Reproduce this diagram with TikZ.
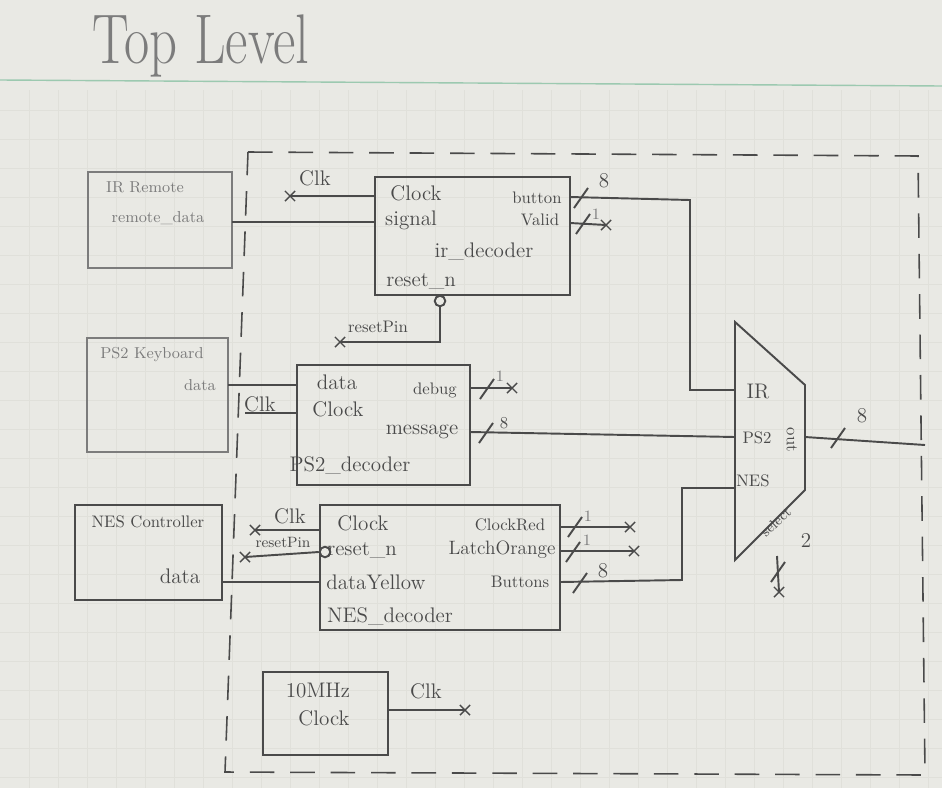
\documentclass[tikz,border=0pt]{standalone}
\usepackage{fontspec}
\usetikzlibrary{fit,shapes.misc}
\definecolor{pencil}{HTML}{4A4A4A}
\definecolor{pencilL}{HTML}{7C7C7C}
\definecolor{paper}{HTML}{E9E9E4}
\definecolor{gridc}{HTML}{E0E0DA}
\definecolor{greenl}{HTML}{9CC9B0}
\tikzset{
  pen/.style={draw=pencil, line width=1.1pt},
  penL/.style={draw=pencilL, line width=1pt},
  box/.style={pen, inner sep=0pt},
  boxL/.style={penL, inner sep=0pt},
  lbl/.style={text=pencil, font=\fontsize{12}{12}\selectfont, inner sep=0pt},
  lbls/.style={text=pencil, font=\fontsize{9.5}{9.5}\selectfont, inner sep=0pt},
  lblL/.style={text=pencilL, font=\fontsize{9}{9}\selectfont, inner sep=0pt},
  xmark/.style={draw=pencil, cross out, line width=0.8pt, minimum size=5pt, inner sep=0pt},
  bound/.style={draw=pencil, line width=0.9pt, dash pattern=on 14pt off 9pt},
  bub/.style={circle, pen, minimum size=6pt, inner sep=0pt},
}
\newcommand\busslash[1]{\draw[pen] (#1) ++(-7,10) -- ++(14,-20);}
\begin{document}
\begin{tikzpicture}[x=0.02cm,y=-0.02cm]
\useasboundingbox (0,0) rectangle (942,788);
\fill[paper] (0,0) rectangle (942,788);
\foreach \g in {29,58,...,940} \draw[gridc, line width=0.3pt] (\g,90) -- (\g,788);
\foreach \g in {110,139,...,788} \draw[gridc, line width=0.3pt] (0,\g) -- (942,\g);
\draw[greenl, line width=0.8pt] (0,80) -- (942,86);

% title
\node[text=pencilL, font=\fontsize{40}{40}\selectfont, xscale=0.78, anchor=south west, inner sep=0] (title) at (92,78) {Top Level};

% boundary
\draw[bound] (248,152) -- (918,156) -- (925,775) -- (225,772) -- cycle;

% ---------- IR section
\node[boxL, fit={(88,172)(232,268)}] (irr) {};
\node[lblL] (irrt) at (145,187) {IR Remote};
\node[lblL] (irrd) at (158,218) {remote\_data};

\node[box, fit={(375,177)(570,295)}] (ird) {};
\node[lbl] (irclkt) at (416,193) {Clock};
\node[lbls] (irbut) at (537,198) {button};
\node[lbl] (irsig) at (411,220) {signal};
\node[lbls] (irval) at (540,220) {Valid};
\node[lbl] (irname) at (484,252) {ir\_decoder};
\node[lbl] (irrst) at (421,281) {reset\_n};

\coordinate (irclkp) at (375,196);
\node[xmark] (irclkx) at (290,196) {};
\node[lbl] (irclkl) at (315,178) {Clk};
\draw[pen] (irclkp) -- (irclkx.center);

\coordinate (irsigp) at (375,222);
\coordinate (irrd2) at (232,222);
\draw[pen] (irrd2) -- (irsigp);

\node[bub] (irbub) at (440,301) {};
\coordinate (irrst1) at (440,342);
\node[xmark] (irrstx) at (340,342) {};
\node[lbls] (irrstl) at (378,327) {resetPin};
\draw[pen] (irbub.south) -- (irrst1) -- (irrstx.center);

% button -> mux IR
\coordinate (irbutp) at (570,197);
\coordinate (irbut1) at (690,200);
\coordinate (irbut2) at (690,390);
\coordinate (muxir) at (735,390);
\draw[pen] (irbutp) -- (irbut1) -- (irbut2) -- (muxir);
\coordinate (s1) at (581,198); \busslash{s1}
\node[lbl] (n8a) at (604,181) {8};

\coordinate (irvalp) at (570,223);
\node[xmark] (irvalx) at (606,225) {};
\draw[pen] (irvalp) -- (irvalx.center);
\coordinate (s2) at (583,224); \busslash{s2}
\node[lblL] (n1a) at (596,214) {1};

% ---------- PS2 section
\node[boxL, fit={(87,338)(228,452)}] (ps2k) {};
\node[lblL] (ps2kt) at (152,355) {PS2 Keyboard};
\node[lblL] (ps2kd) at (200,385) {data};

\node[box, fit={(297,365)(470,485)}] (ps2d) {};
\node[lbl] (ps2dat) at (337,382) {data};
\node[lbls] (ps2dbg) at (435,390) {debug};
\node[lbl] (ps2clk) at (338,409) {Clock};
\node[lbl] (ps2msg) at (422,432) {message};
\node[lbl] (ps2name) at (350,466) {PS2\_decoder};

\coordinate (ps2kdp) at (228,385);
\coordinate (ps2datp) at (297,385);
\draw[pen] (ps2kdp) -- (ps2datp);

\node[lbl] (ps2clkl) at (260,404) {Clk};
\coordinate (ps2clk0) at (245,413);
\coordinate (ps2clkp) at (297,413);
\draw[pen] (ps2clk0) -- (ps2clkp);

\coordinate (ps2dbgp) at (470,388);
\node[xmark] (ps2dbgx) at (512,388) {};
\draw[pen] (ps2dbgp) -- (ps2dbgx.center);
\coordinate (s3) at (487,389); \busslash{s3}
\node[lblL] (n1b) at (500,376) {1};

\coordinate (ps2msgp) at (470,432);
\coordinate (muxps2) at (735,437);
\draw[pen] (ps2msgp) -- (muxps2);
\coordinate (s4) at (486,433); \busslash{s4}
\node[lbls] (n8b) at (504,423) {8};

% ---------- NES section
\node[box, fit={(75,505)(222,600)}] (nesc) {};
\node[lbls] (nesct) at (148,522) {NES Controller};
\node[lbl] (nescd) at (180,576) {data};

\node[box, fit={(320,505)(560,630)}] (nesd) {};
\node[lbl] (nesclk) at (363,523) {Clock};
\node[lbls] (nescr) at (510,525) {ClockRed};
\node[lbl] (nesrst) at (362,550) {reset\_n};
\node[lbls, font=\fontsize{11}{11}\selectfont] (neslo) at (502,550) {LatchOrange};
\node[lbl] (nesdy) at (376,582) {dataYellow};
\node[lbls] (nesbut) at (520,582) {Buttons};
\node[lbl] (nesname) at (390,616) {NES\_decoder};

\coordinate (nesclkp) at (320,530);
\node[xmark] (nesclkx) at (255,530) {};
\node[lbl] (nesclkl) at (290,516) {Clk};
\draw[pen] (nesclkp) -- (nesclkx.center);

\node[bub] (nesbub) at (325,552) {};
\node[xmark] (nesrstx) at (245,557) {};
\node[lbls, font=\fontsize{8.5}{8.5}\selectfont] (nesrstl) at (283,542) {resetPin};
\draw[pen] (nesbub.west) -- (nesrstx.center);

\coordinate (nescdp) at (222,582);
\coordinate (nesdyp) at (320,582);
\draw[pen] (nescdp) -- (nesdyp);

\coordinate (nescrp) at (560,527);
\node[xmark] (nescrx) at (630,527) {};
\draw[pen] (nescrp) -- (nescrx.center);
\coordinate (s5) at (575,527); \busslash{s5}
\node[lblL] (n1c) at (588,516) {1};

\coordinate (neslop) at (560,551);
\node[xmark] (neslox) at (634,551) {};
\draw[pen] (neslop) -- (neslox.center);
\coordinate (s6) at (573,552); \busslash{s6}
\node[lblL] (n1d) at (587,540) {1};

\coordinate (nesbutp) at (560,582);
\coordinate (nesb1) at (682,580);
\coordinate (nesb2) at (682,488);
\coordinate (muxnes) at (735,488);
\draw[pen] (nesbutp) -- (nesb1) -- (nesb2) -- (muxnes);
\coordinate (s7) at (580,583); \busslash{s7}
\node[lbl] (n8c) at (603,571) {8};

% ---------- MUX
\draw[pen] (735,322) coordinate (m1) -- (805,385) coordinate (m2) -- (805,490) coordinate (m3) -- (735,560) coordinate (m4) -- cycle;
\node[lbl] (muxirl) at (758,392) {IR};
\node[lbls] (muxps2l) at (757,438) {PS2};
\node[lbls] (muxnesl) at (753,481) {NES};
\node[lbls, rotate=-90] (muxout) at (792,440) {out};
\node[lbls, font=\fontsize{8}{8}\selectfont, rotate=43] (muxsel) at (776,522) {select};

\coordinate (muxoutp) at (805,437);
\coordinate (outend) at (925,445);
\draw[pen] (muxoutp) -- (outend);
\coordinate (s8) at (838,438); \busslash{s8}
\node[lbl] (n8d) at (862,416) {8};

\coordinate (muxselp) at (777,556);
\node[xmark] (selx) at (779,592) {};
\draw[pen] (muxselp) -- (selx.center);
\coordinate (s9) at (778,572); \busslash{s9}
\node[lbl] (n2) at (806,540) {2};

% ---------- 10MHz clock
\node[box, fit={(263,672)(388,755)}] (osc) {};
\node[lbl] (osct1) at (318,691) {10MHz};
\node[lbl] (osct2) at (324,718) {Clock};
\coordinate (oscp) at (388,710);
\node[xmark] (oscx) at (465,710) {};
\node[lbl] (oscl) at (426,691) {Clk};
\draw[pen] (oscp) -- (oscx.center);

\end{tikzpicture}
\end{document}
